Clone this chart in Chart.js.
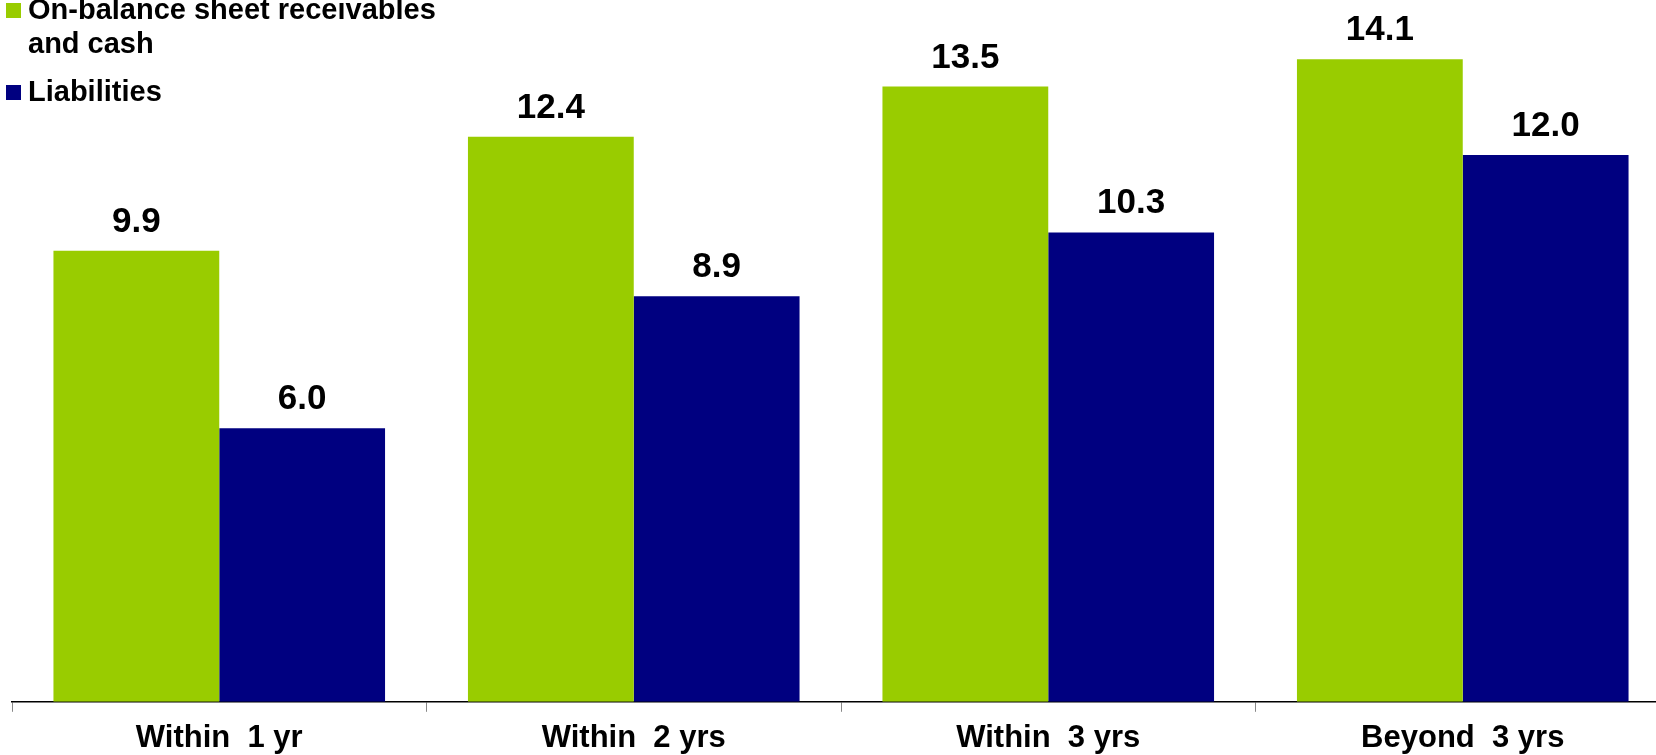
<!DOCTYPE html>
<html>
<head>
<meta charset="utf-8">
<script src="https://cdn.jsdelivr.net/npm/chart.js@4/dist/chart.umd.min.js"></script>
<style>
  html, body { margin: 0; padding: 0; background: #fff; overflow: hidden; }
  #wrap { width: 1680px; height: 765px; }
</style>
</head>
<body>
<div id="wrap"><canvas id="chart" width="1680" height="765"></canvas></div>
<script>
const categories = ['Within  1 yr', 'Within  2 yrs', 'Within  3 yrs', 'Beyond  3 yrs'];
const receivables = [9.9, 12.4, 13.5, 14.1];
const liabilities = [6.0, 8.9, 10.3, 12.0];
const seriesNames = ['On-balance sheet receivables and cash', 'Liabilities'];
const seriesColors = ['#99CC00', '#000080'];

const FONT = '"Liberation Sans", Arial, Helvetica, sans-serif';

// value labels above each bar
const valueLabels = {
  id: 'valueLabels',
  afterDatasetsDraw(chart) {
    const ctx = chart.ctx;
    ctx.save();
    ctx.font = 'bold 35px ' + FONT;
    ctx.fillStyle = '#000';
    ctx.textAlign = 'center';
    ctx.textBaseline = 'alphabetic';
    chart.data.datasets.forEach((ds, i) => {
      chart.getDatasetMeta(i).data.forEach((bar, j) => {
        ctx.fillText(ds.data[j].toFixed(1), bar.x, bar.y - 19);
      });
    });
    ctx.restore();
  }
};

// legend in the top-left corner, wrapped text
const cornerLegend = {
  id: 'cornerLegend',
  afterDraw(chart) {
    const ctx = chart.ctx;
    ctx.save();
    ctx.font = 'bold 29px ' + FONT;
    ctx.textAlign = 'left';
    ctx.textBaseline = 'alphabetic';
    let y = 19;
    chart.data.datasets.forEach((ds) => {
      // wrap words
      const words = ds.label.split(' ');
      const lines = [];
      let line = '';
      words.forEach(w => {
        const test = line ? line + ' ' + w : w;
        if (ctx.measureText(test).width > 425 && line) {
          lines.push(line);
          line = w;
        } else {
          line = test;
        }
      });
      lines.push(line);

      ctx.fillStyle = ds.backgroundColor;
      ctx.fillRect(6, y - 16, 15, 15);
      ctx.fillStyle = '#000';
      lines.forEach((l, k) => {
        ctx.fillText(l, 28, y + k * 34);
      });
      y += (lines.length - 1) * 34 + 48;
    });
    ctx.restore();
  }
};

new Chart(document.getElementById('chart'), {
  type: 'bar',
  data: {
    labels: categories,
    datasets: [
      { label: seriesNames[0], data: receivables, backgroundColor: seriesColors[0] },
      { label: seriesNames[1], data: liabilities, backgroundColor: seriesColors[1] }
    ]
  },
  options: {
    responsive: false,
    animation: false,
    layout: { padding: { left: 12, right: 10, top: 0, bottom: 0 } },
    datasets: {
      bar: { categoryPercentage: 0.8, barPercentage: 1.0 }
    },
    plugins: {
      legend: { display: false },
      tooltip: { enabled: false }
    },
    scales: {
      x: {
        grid: {
          drawOnChartArea: false,
          drawTicks: true,
          tickLength: 10,
          color: '#888'
        },
        border: { color: '#000', width: 1.5 },
        ticks: {
          color: '#000',
          padding: 8,
          font: { family: FONT, size: 31, weight: 'bold' }
        }
      },
      y: {
        display: false,
        min: 0,
        max: 15.4
      }
    }
  },
  plugins: [valueLabels, cornerLegend]
});
</script>
</body>
</html>
